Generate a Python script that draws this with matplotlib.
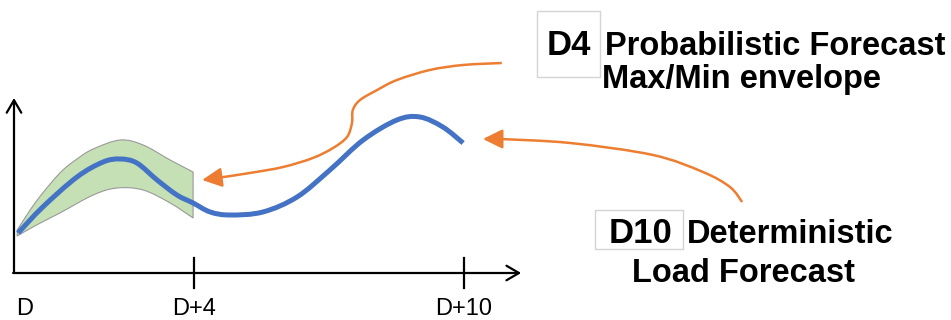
#!/usr/bin/env python

import matplotlib.pyplot as plt
from matplotlib.patches import Rectangle, PathPatch
from matplotlib.path import Path
import numpy as np

plt.rcParams['font.family'] = ['Liberation Sans', 'DejaVu Sans']

# deterministic load curve (day, load)
load_days = [0.09, 0.64, 1.40, 1.98, 2.36, 2.73, 3.18, 3.62, 3.98, 4.36,
             4.80, 5.53, 6.29, 7.02, 7.76, 8.51, 9.02, 9.53, 9.98]
load_vals = [40, 66, 96, 111, 114, 110, 93, 78, 70, 61,
             58, 61, 76, 103, 133, 153, 156, 146, 130]

# probabilistic envelope (first 4 days)
max_days = [0.07, 0.50, 1.02, 1.40, 1.76, 2.36, 2.87, 3.47, 3.98]
max_vals = [43, 72, 100, 114, 124, 133, 128, 113, 101]
min_days = [0.07, 0.50, 1.02, 1.76, 2.29, 2.87, 3.47, 3.98]
min_vals = [37, 48, 60, 78, 85, 83, 70, 55]

# callout arrows
arrow1_x = [10.84, 9.98, 9.24, 8.51, 8.07, 7.69, 7.53, 7.51, 7.40, 7.09,
            6.64, 5.98, 5.24, 4.51]
arrow1_y = [210, 208, 203, 193, 183, 173, 163, 150, 136, 125,
            115, 106, 100, 95]
arrow1_tip = (4.18, 93)

arrow2_x = [16.18, 15.91, 15.31, 14.20, 12.36, 10.80]
arrow2_y = [71, 86, 101, 118, 130, 134]
arrow2_tip = (10.42, 134)

tick_days = [0, 4, 10]
tick_labels = ['D', 'D+4', 'D+10']

BLUE = '#4472c4'
ORANGE = '#ed7d31'
GREEN = '#c5e0b4'


def px(x, y):
    # pixel position -> data position
    return (x - 14) / 45.0, 273 - y


def smooth_path(xs, ys):
    # catmull-rom through the points, drawn as cubic beziers
    pts = np.column_stack([xs, ys]).astype(float)
    n = len(pts)
    verts = [pts[0]]
    codes = [Path.MOVETO]
    for i in range(n - 1):
        p0 = pts[i - 1] if i > 0 else pts[i]
        p1 = pts[i]
        p2 = pts[i + 1]
        p3 = pts[i + 2] if i + 2 < n else p2
        verts += [p1 + (p2 - p0) / 6.0, p2 - (p3 - p1) / 6.0, p2]
        codes += [Path.CURVE4] * 3
    return Path(verts, codes)


fig = plt.figure(figsize=(9.51, 3.2), dpi=100)
ax = fig.add_axes([0, 0, 1, 1])
ax.set_xlim(-14 / 45.0, 937 / 45.0)
ax.set_ylim(-47, 273)
ax.axis('off')

# axes arrows
ax.annotate('', xy=(0, 175), xytext=(0, 0),
            arrowprops=dict(arrowstyle='->,head_length=0.6,head_width=0.35',
                            lw=1.6, color='black', shrinkA=0, shrinkB=0,
                            mutation_scale=15))
ax.annotate('', xy=(11.27, 0), xytext=(-0.02, 0),
            arrowprops=dict(arrowstyle='->,head_length=0.6,head_width=0.35',
                            lw=1.6, color='black', shrinkA=0, shrinkB=0,
                            mutation_scale=15))

for d, lab in zip(tick_days, tick_labels):
    if d > 0:
        ax.plot([d, d], [-15, 15], color='black', lw=1.6)
    ax.text(d + (0.05 if d == 0 else 0), -42, lab, fontsize=17,
            ha='left' if d == 0 else 'center', va='baseline')

# envelope: upper edge, right edge, lower edge back
upper = smooth_path(max_days, max_vals)
lower = smooth_path(min_days[::-1], min_vals[::-1])
verts = np.concatenate([upper.vertices, lower.vertices, upper.vertices[:1]])
codes = np.concatenate([upper.codes, [Path.LINETO], lower.codes[1:],
                        [Path.CLOSEPOLY]])
ax.add_patch(PathPatch(Path(verts, codes), facecolor=GREEN,
                       edgecolor='#9a9a9a', lw=0.8, zorder=2))

ax.add_patch(PathPatch(smooth_path(load_days, load_vals), facecolor='none',
                       edgecolor=BLUE, lw=3.6, capstyle='butt', zorder=3))

# orange callout arrows
for xs, ys, tip in [(arrow1_x, arrow1_y, arrow1_tip),
                    (arrow2_x, arrow2_y, arrow2_tip)]:
    ax.add_patch(PathPatch(smooth_path(xs, ys), facecolor='none',
                           edgecolor=ORANGE, lw=1.8, zorder=3))
    ax.annotate('', xy=tip, xytext=(xs[-1], ys[-1]),
                arrowprops=dict(arrowstyle='-|>,head_length=0.85,head_width=0.42',
                                lw=1.8, color=ORANGE, shrinkA=0, shrinkB=0,
                                mutation_scale=14), zorder=4)

# D4 text block
x0, y0 = px(537, 77)
x1, y1 = px(600, 11)
ax.add_patch(Rectangle((x0, y0), x1 - x0, y1 - y0, facecolor='white',
                       edgecolor='#d4d4d4', lw=1.0))
ax.text(*px(569, 55), 'D4', fontsize=25, fontweight='bold', ha='center',
        va='baseline')
ax.text(*px(605, 55), 'Probabilistic Forecast', fontsize=23.5,
        fontweight='bold', ha='left', va='baseline')
ax.text(*px(602, 88), 'Max/Min envelope', fontsize=23.5,
        fontweight='bold', ha='left', va='baseline')

# D10 text block
x0, y0 = px(595, 249)
x1, y1 = px(683, 210)
ax.add_patch(Rectangle((x0, y0), x1 - x0, y1 - y0, facecolor='white',
                       edgecolor='#d4d4d4', lw=1.0))
ax.text(*px(640, 243), 'D10', fontsize=25, fontweight='bold', ha='center',
        va='baseline')
ax.text(*px(687, 243), 'Deterministic', fontsize=23.5, fontweight='bold',
        ha='left', va='baseline')
ax.text(*px(632, 282), 'Load Forecast', fontsize=23.5, fontweight='bold',
        ha='left', va='baseline')

fig.savefig('out.png', dpi=100)
